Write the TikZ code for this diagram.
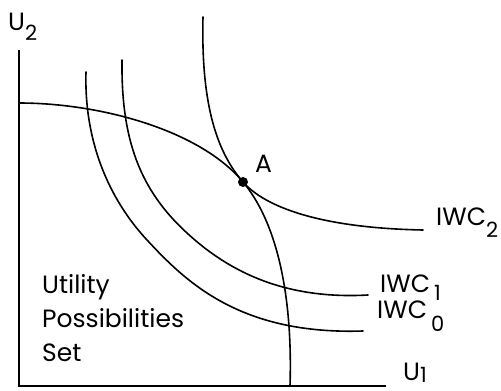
\documentclass[tikz,border=0pt]{standalone}
\usepackage{fontspec}
\setmainfont{Poppins}
\newcommand{\lsub}[2][10pt]{\raisebox{-#1}{\fontsize{21}{21}\selectfont #2}}
\begin{document}
\begin{tikzpicture}[x=1pt,y=-1pt,
  curve/.style={line width=1.6pt, line join=round, line cap=round},
  axisline/.style={line width=2pt},
  lbl/.style={inner sep=0pt, anchor=base west, font=\fontsize{25}{28}\selectfont}]
\useasboundingbox (0,0) rectangle (501,391);
% axes
\coordinate (ytop) at (19,50);
\coordinate (origin) at (19,386);
\coordinate (xend) at (386,386);
\draw[axisline] (ytop) -- (origin) -- (xend);
% key points
\coordinate (A) at (243,182);
\coordinate (upfL) at (19,103);
\coordinate (upfB) at (290,386);
\coordinate (w2T) at (203,17);
\coordinate (w2R) at (423,230);
\coordinate (w1T) at (122,60);
\coordinate (w1M) at (187,233);
\coordinate (w1R) at (368,295);
\coordinate (w0T) at (86,72);
\coordinate (w0M) at (147,240);
\coordinate (w0R) at (363,331);
% utility possibilities frontier
\draw[curve] (upfL) .. controls (100,103) and (200,130) .. (A)
  .. controls (275,220) and (293,290) .. (upfB);
% IWC2
\draw[curve] (w2T) .. controls (201,100) and (215,150) .. (A)
  .. controls (265,207) and (320,228) .. (w2R);
% IWC1
\draw[curve] (w1T) .. controls (121,140) and (140,190) .. (w1M)
  .. controls (225,268) and (280,300) .. (w1R);
% IWC0
\draw[curve] (w0T) .. controls (84,140) and (108,198) .. (w0M)
  .. controls (186,282) and (240,335) .. (w0R);
% point A
\fill (A) circle (5);
% labels
\node[lbl] (u2lbl) at (8,30) {U\lsub{2}};
\node[lbl] (u1lbl) at (403,380) {U\lsub[2pt]{1}};
\node[lbl] (alabel) at (255,172) {A};
\node[lbl] (iwc2) at (436,225) {IWC\lsub[12pt]{2}};
\node[lbl] (iwc1) at (380,292) {IWC\,\lsub[8pt]{1}};
\node[lbl] (iwc0) at (377,318) {IWC\,\lsub[13pt]{0}};
\node[lbl] (t1) at (42,293) {Utility};
\node[lbl] (t2) at (42,327) {Possibilities};
\node[lbl] (t3) at (42,361) {Set};
\end{tikzpicture}
\end{document}
